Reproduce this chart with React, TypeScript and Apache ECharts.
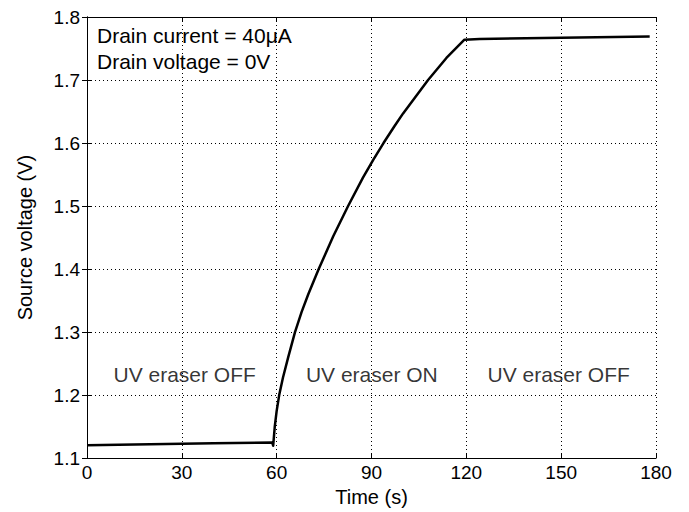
import React, { useEffect, useRef } from "react";
import * as echarts from "echarts";

const timeS: number[] = [0, 20, 40, 58.6, 58.9, 59.4, 60, 60.8, 62, 63.7, 65.8, 67.9, 70, 73.3, 77.9, 82.6, 87.3, 90.5, 93.8, 97.3, 100, 107.9, 113.7, 119.4, 124.2, 150, 178];
const sourceV: number[] = [1.1205, 1.122, 1.1235, 1.1247, 1.1197, 1.15, 1.175, 1.2, 1.228, 1.261, 1.3, 1.332, 1.36, 1.4, 1.452, 1.5, 1.545, 1.573, 1.6, 1.627, 1.647, 1.7, 1.735, 1.764, 1.765, 1.767, 1.769];

const regionLabels: string[] = ["UV eraser OFF", "UV eraser ON", "UV eraser OFF"];
const regionX: number[] = [30.9, 90.1, 149.2];
const regionY: number[] = [1.232, 1.232, 1.232];

const noteLines: string[] = ["Drain current = 40\u03bcA", "Drain voltage = 0V"];

const FONT = "'Liberation Sans', Arial, Helvetica, sans-serif";

export default function App() {
  const ref = useRef<HTMLDivElement>(null);
  useEffect(() => {
    if (!ref.current) return;
    const chart = echarts.init(ref.current, undefined, { renderer: "svg" });
    const tickCommon = {
      axisLine: { show: true, lineStyle: { color: "#000", width: 1 } },
      axisTick: { show: true, inside: true, length: 5, lineStyle: { color: "#000", width: 1 } },
    };
    chart.setOption({
      animation: false,
      backgroundColor: "#fff",
      textStyle: { fontFamily: FONT },
      grid: { left: 87, right: 33, top: 17, bottom: 48, containLabel: false },
      xAxis: [
        {
          type: "value",
          min: 0,
          max: 180,
          interval: 30,
          position: "bottom",
          name: "Time (s)",
          nameLocation: "middle",
          nameGap: 23,
          nameTextStyle: { color: "#000", fontSize: 20, fontFamily: FONT },
          axisLabel: { color: "#000", fontSize: 19, margin: 5, fontFamily: FONT },
          splitLine: { show: true, lineStyle: { color: "#000", width: 1, type: [1, 3] } },
          ...tickCommon,
        },
        {
          type: "value",
          min: 0,
          max: 180,
          interval: 30,
          position: "top",
          axisLabel: { show: false },
          splitLine: { show: false },
          ...tickCommon,
        },
      ],
      yAxis: [
        {
          type: "value",
          min: 1.1,
          max: 1.8,
          interval: 0.1,
          position: "left",
          name: "Source voltage (V)",
          nameLocation: "middle",
          nameGap: 52,
          nameTextStyle: { color: "#000", fontSize: 20, fontFamily: FONT },
          axisLabel: { color: "#000", fontSize: 19, margin: 7, fontFamily: FONT, formatter: (v: number) => v.toFixed(1) },
          splitLine: { show: true, lineStyle: { color: "#000", width: 1, type: [1, 3] } },
          ...tickCommon,
        },
        {
          type: "value",
          min: 1.1,
          max: 1.8,
          interval: 0.1,
          position: "right",
          axisLabel: { show: false },
          splitLine: { show: false },
          ...tickCommon,
        },
      ],
      series: [
        {
          type: "line",
          data: timeS.map((t, i) => [t, sourceV[i]]),
          showSymbol: false,
          symbol: "none",
          lineStyle: { color: "#000", width: 2.5, join: "round" },
          z: 5,
        },
        {
          type: "scatter",
          symbolSize: 0,
          data: regionX.map((x, i) => ({ value: [x, regionY[i]], name: regionLabels[i] })),
          label: {
            show: true,
            position: "inside",
            formatter: (p: any) => p.name,
            color: "#000",
            fontSize: 21,
            fontFamily: FONT,
          },
          silent: true,
          z: 6,
        },
      ],
      graphic: noteLines.map((t, i) => ({
        type: "text",
        x: 97,
        y: 35 + i * 26.5,
        style: { text: t, fill: "#000", fontSize: 21, fontFamily: FONT, textVerticalAlign: "middle", verticalAlign: "middle" },
      })),
    });
    return () => chart.dispose();
  }, []);
  return <div ref={ref} style={{ position: "fixed", left: 0, top: 0, width: 689, height: 512, background: "#fff" }} />;
}
